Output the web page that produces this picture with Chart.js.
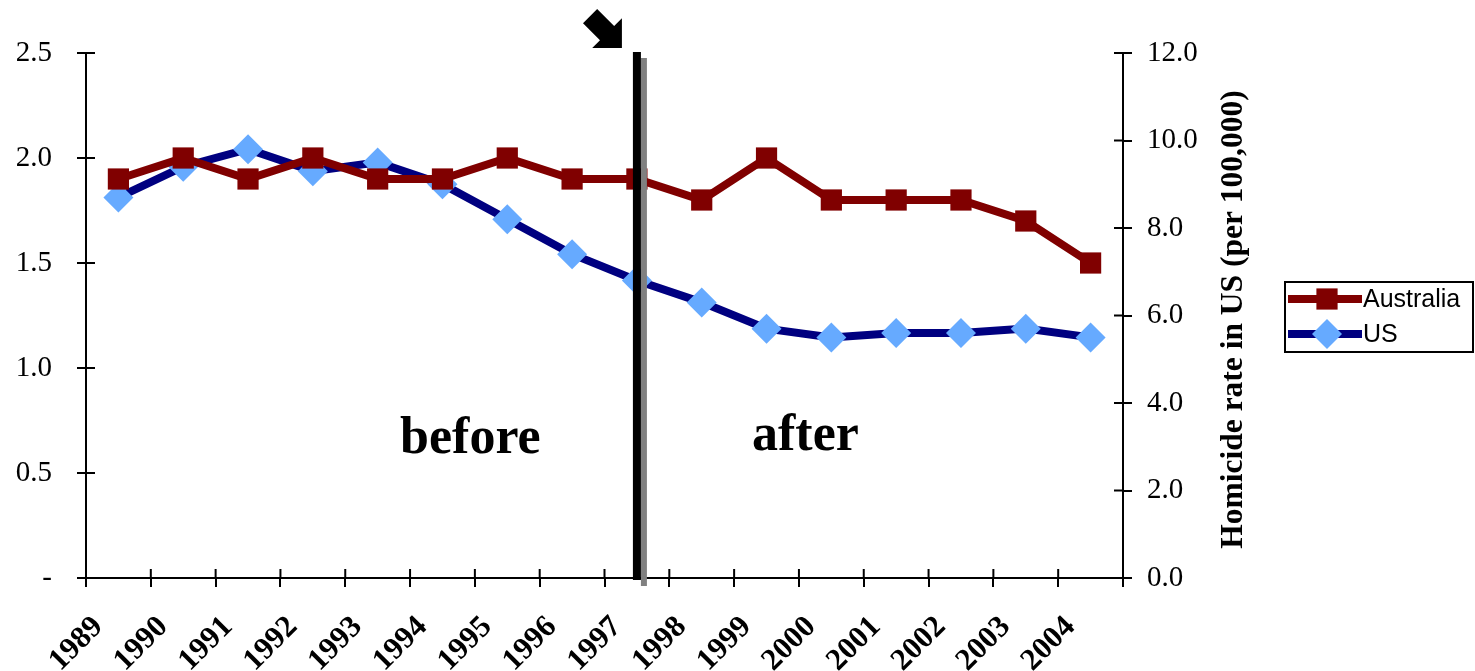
<!DOCTYPE html>
<html>
<head>
<meta charset="utf-8">
<script src="https://cdn.jsdelivr.net/npm/chart.js@4/dist/chart.umd.min.js"></script>
<style>
  html, body { margin: 0; padding: 0; background: #fff; }
  #wrap { width: 1475px; height: 671px; position: relative; }
</style>
</head>
<body>
<div id="wrap"><canvas id="chart" width="1475" height="671"></canvas></div>
<script>
// data
const years = ['1989', '1990', '1991', '1992', '1993', '1994', '1995', '1996',
               '1997', '1998', '1999', '2000', '2001', '2002', '2003', '2004'];
const australia = [1.9, 2.0, 1.9, 2.0, 1.9, 1.9, 2.0, 1.9, 1.9, 1.8, 2.0, 1.8, 1.8, 1.8, 1.7, 1.5];
const us = [8.7, 9.4, 9.8, 9.3, 9.5, 9.0, 8.2, 7.4, 6.8, 6.3, 5.7, 5.5, 5.6, 5.6, 5.7, 5.5];
const leftTicks = [0, 0.5, 1.0, 1.5, 2.0, 2.5];
const rightTicks = [0, 2, 4, 6, 8, 10, 12];
const markerYear = '1997';
const rightTitle = 'Homicide rate in US (per 100,000)';

const SERIF = '"Liberation Serif", "Times New Roman", serif';
const SANS = '"Liberation Sans", Arial, sans-serif';
const RED = '#800000';
const NAVY = '#000080';
const LIGHT = '#66aaff';

// extra drawing: inner tick halves, the 1997 line, arrow, texts, legend
const extras = {
  id: 'extras',
  afterDraw(chart) {
    const ctx = chart.ctx;
    const x = chart.scales.x, yl = chart.scales.y, yr = chart.scales.y1;
    const area = chart.chartArea;
    ctx.save();

    // inner halves of tick marks
    ctx.strokeStyle = '#000';
    ctx.lineWidth = 2;
    ctx.beginPath();
    yl.ticks.forEach(t => {
      const py = yl.getPixelForValue(t.value);
      ctx.moveTo(area.left, py); ctx.lineTo(area.left + 9, py);
    });
    yr.ticks.forEach(t => {
      const py = yr.getPixelForValue(t.value);
      ctx.moveTo(area.right, py); ctx.lineTo(area.right - 9, py);
    });
    for (let i = 0; i <= years.length; i++) {
      const px = x.getPixelForValue(i - 0.5);
      ctx.moveTo(px, area.bottom); ctx.lineTo(px, area.bottom - 9);
    }
    ctx.stroke();

    // vertical marker line at 1997 with grey shadow
    const mx = x.getPixelForValue(years.indexOf(markerYear));
    ctx.fillStyle = '#808080';
    ctx.fillRect(mx + 4, area.top + 5, 6, area.bottom - area.top + 3);
    ctx.fillStyle = '#000';
    ctx.fillRect(mx - 4, area.top - 1, 8, area.bottom - area.top + 3);

    // arrow pointing down-right, tip just left of the line top
    ctx.save();
    ctx.translate(mx - 15, area.top - 5);
    ctx.rotate(-Math.PI / 4);
    ctx.beginPath();
    ctx.moveTo(0, 0);
    ctx.lineTo(21, -21);
    ctx.lineTo(10, -21);
    ctx.lineTo(10, -45);
    ctx.lineTo(-10, -45);
    ctx.lineTo(-10, -21);
    ctx.lineTo(-21, -21);
    ctx.closePath();
    ctx.fill();
    ctx.restore();

    // before / after
    ctx.fillStyle = '#000';
    ctx.font = 'bold 52px ' + SERIF;
    ctx.textAlign = 'center';
    ctx.textBaseline = 'alphabetic';
    ctx.fillText('before', x.getPixelForValue(5.43), yl.getPixelForValue(0.595));
    ctx.fillText('after', x.getPixelForValue(10.6), yl.getPixelForValue(0.61));

    // right axis title, reading bottom to top
    ctx.save();
    ctx.translate(1234, (area.top + area.bottom) / 2 + 4);
    ctx.rotate(-Math.PI / 2);
    ctx.font = 'bold 31.5px ' + SERIF;
    ctx.textAlign = 'center';
    ctx.textBaseline = 'middle';
    ctx.fillText(rightTitle, 0, 0);
    ctx.restore();

    // legend
    const lx = 1285, ly = 282, lw = 188, lh = 70;
    ctx.lineWidth = 2;
    ctx.strokeStyle = '#000';
    ctx.strokeRect(lx, ly, lw, lh);
    const items = [
      { ds: chart.data.datasets[0], y: ly + 17 },
      { ds: chart.data.datasets[1], y: ly + 52 }
    ];
    ctx.font = '25px ' + SANS;
    ctx.textAlign = 'left';
    ctx.textBaseline = 'middle';
    items.forEach(it => {
      ctx.strokeStyle = it.ds.borderColor;
      ctx.lineWidth = 8;
      ctx.beginPath();
      ctx.moveTo(lx + 3, it.y); ctx.lineTo(lx + 77, it.y);
      ctx.stroke();
      ctx.fillStyle = it.ds.pointBackgroundColor;
      ctx.beginPath();
      if (it.ds.pointStyle === 'rect') {
        const s = Math.SQRT1_2 * 15;
        ctx.rect(lx + 42 - s, it.y - s, 2 * s, 2 * s);
      } else {
        ctx.moveTo(lx + 42, it.y - 15); ctx.lineTo(lx + 57, it.y);
        ctx.lineTo(lx + 42, it.y + 15); ctx.lineTo(lx + 27, it.y);
        ctx.closePath();
      }
      ctx.fill();
      ctx.fillStyle = '#000';
      ctx.fillText(it.ds.label, lx + 78, it.y + 1);
    });

    ctx.restore();
  }
};

new Chart(document.getElementById('chart'), {
  type: 'line',
  data: {
    labels: years,
    datasets: [
      {
        label: 'Australia',
        data: australia,
        yAxisID: 'y',
        borderColor: RED,
        backgroundColor: RED,
        borderWidth: 8,
        pointStyle: 'rect',
        pointRadius: 15,
        pointBorderWidth: 0,
        pointBackgroundColor: RED,
        pointBorderColor: RED,
        tension: 0,
        clip: false
      },
      {
        label: 'US',
        data: us,
        yAxisID: 'y1',
        borderColor: NAVY,
        backgroundColor: LIGHT,
        borderWidth: 8,
        pointStyle: 'rectRot',
        pointRadius: 15,
        pointBorderWidth: 0,
        pointBackgroundColor: LIGHT,
        pointBorderColor: LIGHT,
        tension: 0,
        clip: false
      }
    ]
  },
  options: {
    responsive: false,
    animation: false,
    devicePixelRatio: 1,
    layout: { padding: { top: 53, left: 0, right: 0, bottom: 0 } },
    plugins: {
      legend: { display: false },
      tooltip: { enabled: false }
    },
    scales: {
      x: {
        type: 'category',
        offset: true,
        afterFit: s => { s.height = 93; },
        grid: {
          offset: true,
          drawOnChartArea: false,
          drawTicks: true,
          tickLength: 9,
          color: '#000',
          lineWidth: 2
        },
        border: { display: true, color: '#000', width: 2 },
        ticks: {
          autoSkip: false,
          maxRotation: 45,
          minRotation: 45,
          padding: 22,
          labelOffset: -20,
          color: '#000',
          font: { family: SERIF, size: 31, weight: 'bold' }
        }
      },
      y: {
        position: 'left',
        min: 0,
        max: 2.5,
        afterFit: s => { s.width = 86; },
        afterBuildTicks: s => { s.ticks = leftTicks.map(v => ({ value: v })); },
        grid: {
          drawOnChartArea: false,
          drawTicks: true,
          tickLength: 9,
          color: '#000',
          lineWidth: 2
        },
        border: { display: true, color: '#000', width: 2 },
        ticks: {
          padding: 25,
          color: '#000',
          font: { family: SERIF, size: 29 },
          callback: v => v === 0 ? '-' : v.toFixed(1)
        }
      },
      y1: {
        position: 'right',
        min: 0,
        max: 12,
        afterFit: s => { s.width = 352; },
        afterBuildTicks: s => { s.ticks = rightTicks.map(v => ({ value: v })); },
        grid: {
          drawOnChartArea: false,
          drawTicks: true,
          tickLength: 9,
          color: '#000',
          lineWidth: 2
        },
        border: { display: true, color: '#000', width: 2 },
        ticks: {
          padding: 15,
          color: '#000',
          font: { family: SERIF, size: 29 },
          callback: v => v.toFixed(1)
        }
      }
    }
  },
  plugins: [extras]
});
</script>
</body>
</html>
